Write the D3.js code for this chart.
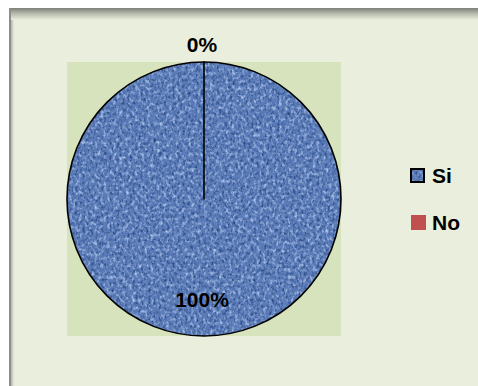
<!DOCTYPE html>
<html>
<head>
<meta charset="utf-8">
<script src="https://cdn.jsdelivr.net/npm/d3@7"></script>
<style>
  html, body { margin: 0; padding: 0; background: #ffffff; }
  svg { display: block; }
  text { font-family: "Liberation Sans", Arial, sans-serif; font-weight: bold; fill: #000; }
</style>
</head>
<body>
<svg id="chart" width="478" height="386"></svg>
<script>
// Answers and their shares (percent)
const categories = ["Si", "No"];
const values = [100, 0];
const labels = ["100%", "0%"];
const colors = ["#5a7cb8", "#c0504d"];

const svg = d3.select("#chart");
const W = 478, H = 386;

const defs = svg.append("defs");

// Soft grey shadow along the top and left edges of the chart frame
const gTop = defs.append("linearGradient").attr("id", "shadeTop")
  .attr("x1", 0).attr("y1", 0).attr("x2", 0).attr("y2", 1);
gTop.append("stop").attr("offset", "0%").attr("stop-color", "#7c7f7a");
gTop.append("stop").attr("offset", "45%").attr("stop-color", "#b4b8ab");
gTop.append("stop").attr("offset", "100%").attr("stop-color", "#eaeedc");

const gLeft = defs.append("linearGradient").attr("id", "shadeLeft")
  .attr("x1", 0).attr("y1", 0).attr("x2", 1).attr("y2", 0);
gLeft.append("stop").attr("offset", "0%").attr("stop-color", "#8a8c86");
gLeft.append("stop").attr("offset", "100%").attr("stop-color", "#eaeedc");

// Woven "denim" texture for the main slice
const tex = defs.append("filter").attr("id", "denim")
  .attr("x", 0).attr("y", 0).attr("width", 1).attr("height", 1)
  .attr("color-interpolation-filters", "sRGB");
tex.append("feTurbulence").attr("type", "fractalNoise")
  .attr("baseFrequency", "0.32 0.26").attr("numOctaves", 2).attr("seed", 7)
  .attr("result", "noise");
tex.append("feColorMatrix").attr("in", "noise").attr("type", "matrix")
  .attr("values", "0 0 0 0 0  0 0 0 0 0  0 0 0 0 0  2.6 0 0 0 -1.25")
  .attr("result", "mask");
tex.append("feFlood").attr("flood-color", "#b3c8ee").attr("result", "light");
tex.append("feComposite").attr("in", "light").attr("in2", "mask").attr("operator", "in").attr("result", "lightSpots");
tex.append("feTurbulence").attr("type", "fractalNoise")
  .attr("baseFrequency", "0.38 0.3").attr("numOctaves", 2).attr("seed", 21)
  .attr("result", "noise2");
tex.append("feColorMatrix").attr("in", "noise2").attr("type", "matrix")
  .attr("values", "0 0 0 0 0  0 0 0 0 0  0 0 0 0 0  0 0 2.6 0 -1.2")
  .attr("result", "dmask");
tex.append("feFlood").attr("flood-color", "#294783").attr("result", "dark");
tex.append("feComposite").attr("in", "dark").attr("in2", "dmask").attr("operator", "in").attr("result", "darkSpots");
tex.append("feFlood").attr("flood-color", colors[0]).attr("result", "base");
const merge = tex.append("feMerge");
merge.append("feMergeNode").attr("in", "base");
merge.append("feMergeNode").attr("in", "darkSpots");
merge.append("feMergeNode").attr("in", "lightSpots");

// Chart frame
svg.append("rect").attr("x", 9).attr("y", 8).attr("width", W - 9).attr("height", H - 8)
  .attr("fill", "#eaeedc");
svg.append("rect").attr("x", 9).attr("y", 8).attr("width", 5).attr("height", H - 8)
  .attr("fill", "url(#shadeLeft)");
svg.append("rect").attr("x", 9).attr("y", 8).attr("width", W - 9).attr("height", 12)
  .attr("fill", "url(#shadeTop)");
svg.append("rect").attr("x", 9).attr("y", 8).attr("width", 2).attr("height", H - 8)
  .attr("fill", "#8d8f89");

// Plot area
const plot = { x: 67, y: 62, w: 274, h: 274 };
svg.append("rect").attr("x", plot.x).attr("y", plot.y)
  .attr("width", plot.w).attr("height", plot.h).attr("fill", "#d7e3bd");

const cx = plot.x + plot.w / 2, cy = plot.y + plot.h / 2;
const r = plot.w / 2;

const pie = d3.pie().sort(null).value(d => d.value);
const arcs = pie(categories.map((c, i) => ({ cat: c, value: values[i], label: labels[i], color: colors[i] })));
const arc = d3.arc().innerRadius(0).outerRadius(r);

const g = svg.append("g").attr("transform", `translate(${cx},${cy})`);

// Textured fill clipped to each slice
const fillG = g.append("g");
arcs.forEach((a, i) => {
  if (a.endAngle - a.startAngle <= 0) return;
  const clipId = "slice" + i;
  defs.append("clipPath").attr("id", clipId).append("path").attr("d", arc(a));
  if (i === 0) {
    fillG.append("rect")
      .attr("x", -r - 2).attr("y", -r - 2).attr("width", 2 * r + 4).attr("height", 2 * r + 4)
      .attr("clip-path", `url(#${clipId})`)
      .attr("filter", "url(#denim)");
  } else {
    fillG.append("path").attr("d", arc(a)).attr("fill", a.data.color);
  }
});

// Slice outlines (the zero slice reduces to a single radius)
g.selectAll("path.outline").data(arcs).join("path")
  .attr("class", "outline")
  .attr("d", arc)
  .attr("fill", "none")
  .attr("stroke", "#000")
  .attr("stroke-width", 1.6)
  .attr("stroke-linejoin", "round");

// Percent labels: the large slice inside near the bottom, the empty one above the pie
const labelPos = d3.arc().innerRadius(r * 0.73).outerRadius(r * 0.73);
arcs.forEach((a, i) => {
  let x, y;
  if (a.endAngle - a.startAngle >= Math.PI * 2 - 1e-9) {
    x = 0; y = r * 0.73;
  } else if (a.endAngle - a.startAngle <= 1e-9) {
    x = 0; y = -r - 18;
  } else {
    [x, y] = labelPos.centroid(a);
  }
  g.append("text").attr("x", x - 2).attr("y", y).attr("dy", "0.36em")
    .attr("text-anchor", "middle").attr("font-size", 21)
    .text(a.data.label);
});

// Legend
const legend = svg.append("g").attr("transform", "translate(410,168)");
categories.forEach((c, i) => {
  const row = legend.append("g").attr("transform", `translate(0,${i * 47})`);
  if (i === 0) {
    row.append("rect").attr("x", 0).attr("y", 0).attr("width", 15).attr("height", 15)
      .attr("filter", "url(#denim)");
    row.append("rect").attr("x", 1).attr("y", 1).attr("width", 13).attr("height", 13)
      .attr("fill", "none").attr("stroke", "#000").attr("stroke-width", 2);
  } else {
    row.append("rect").attr("x", 1).attr("y", 0).attr("width", 15).attr("height", 15)
      .attr("fill", colors[i]);
  }
  row.append("text").attr("x", 22).attr("y", 7.5).attr("dy", "0.36em")
    .attr("font-size", 21).text(c);
});
</script>
</body>
</html>
